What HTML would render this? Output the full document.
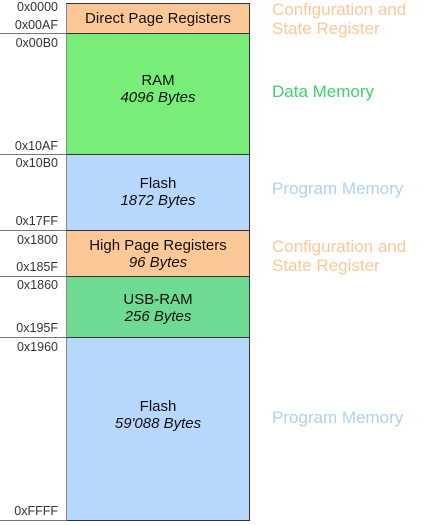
<!DOCTYPE html>
<html><head><style>
body{margin:0;width:425px;height:525px;background:#fff;position:relative;font-family:"Liberation Sans",sans-serif;overflow:hidden}
.b{position:absolute;left:66px;width:184px;border:1px solid #333;border-left:1px solid #888;box-sizing:border-box;text-align:center;font-size:15px;color:#111;line-height:17px}
.h{position:absolute;left:0;width:66px;height:1px;background:#777}
.a{position:absolute;font-size:12.5px;color:#333;text-align:right;width:66px;left:-8px}
.r{position:absolute;left:272px;font-size:17px;line-height:19px}
i{font-style:italic}
</style></head><body>
<div class="b" style="top:3px;height:31px;background:#fcc898;padding-top:6px">Direct Page Registers</div>
<div class="b" style="top:33px;height:122px;background:#78ee78;padding-top:38px">RAM<br><i>4096 Bytes</i></div>
<div class="b" style="top:154px;height:77px;background:#b7d8fc;padding-top:20px">Flash<br><i>1872 Bytes</i></div>
<div class="b" style="top:230px;height:47px;background:#fcc898;padding-top:6px">High Page Registers<br><i>96 Bytes</i></div>
<div class="b" style="top:276px;height:62px;background:#6fdb92;padding-top:14px">USB-RAM<br><i>256 Bytes</i></div>
<div class="b" style="top:337px;height:184px;background:#b7d8fc;padding-top:60px">Flash<br><i>59'088 Bytes</i></div>
<div class="h" style="top:33px"></div><div class="h" style="top:154px"></div><div class="h" style="top:230px"></div><div class="h" style="top:276px"></div><div class="h" style="top:337px"></div><div class="h" style="top:520px"></div>
<div class="a" style="top:0px">0x0000</div>
<div class="a" style="top:18px">0x00AF</div>
<div class="a" style="top:36px">0x00B0</div>
<div class="a" style="top:139px">0x10AF</div>
<div class="a" style="top:156px">0x10B0</div>
<div class="a" style="top:214px">0x17FF</div>
<div class="a" style="top:233px">0x1800</div>
<div class="a" style="top:260px">0x185F</div>
<div class="a" style="top:278px">0x1860</div>
<div class="a" style="top:321px">0x195F</div>
<div class="a" style="top:340px">0x1960</div>
<div class="a" style="top:504px">0xFFFF</div>
<div class="r" style="top:0px;color:#fcc898">Configuration and<br>State Register</div>
<div class="r" style="top:82px;color:#3dd36a">Data Memory</div>
<div class="r" style="top:179px;color:#b0d0f5">Program Memory</div>
<div class="r" style="top:237px;color:#fcc898">Configuration and<br>State Register</div>
<div class="r" style="top:408px;color:#b0d0f5">Program Memory</div>
</body></html>
